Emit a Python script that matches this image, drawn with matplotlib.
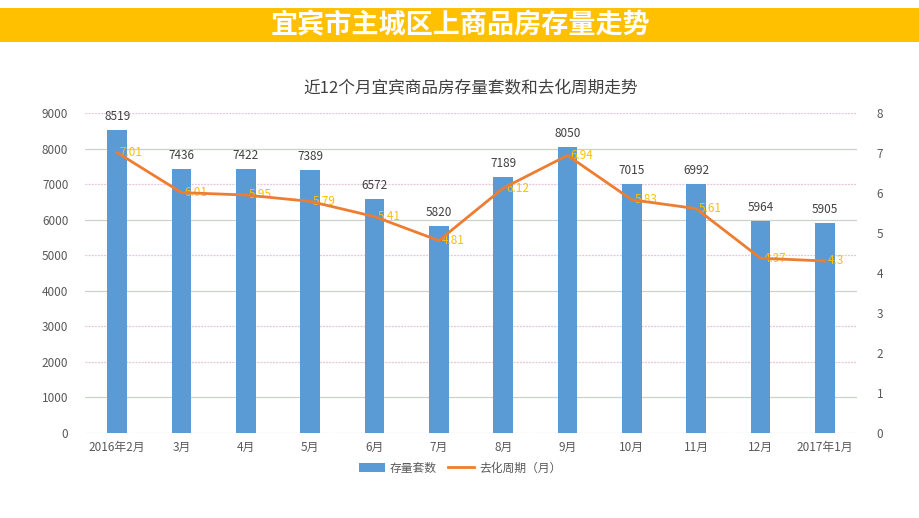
import numpy as np
import matplotlib.pyplot as plt
from matplotlib.patches import Rectangle

plt.rcParams['font.family'] = ['Noto Sans CJK SC', 'DejaVu Sans']

months = ['2016年2月', '3月', '4月', '5月', '6月', '7月', '8月', '9月',
          '10月', '11月', '12月', '2017年1月']
stock = [8519, 7436, 7422, 7389, 6572, 5820, 7189, 8050, 7015, 6992, 5964, 5905]
cycle = [7.01, 6.01, 5.95, 5.79, 5.41, 4.81, 6.12, 6.94, 5.83, 5.61, 4.37, 4.3]

BAR = '#5B9BD5'
LINE = '#ED7D31'
LABEL = '#FFC000'
TXT = '#595959'

fig = plt.figure(figsize=(9.2, 5.18), dpi=100)

# header banner
fig.patches.append(Rectangle((0, 1 - 42 / 518), 1, 34 / 518, transform=fig.transFigure,
                             facecolor='#FFC000', edgecolor='none', zorder=0))
fig.text(0.5, 1 - 25 / 518, '宜宾市主城区上商品房存量走势', color='white', fontsize=19.5,
         fontweight='bold', ha='center', va='center')

ax = fig.add_axes([85 / 920, 1 - 433 / 518, (857 - 85) / 920, 320 / 518])
x = np.arange(len(months))
ax.bar(x, stock, width=0.31, color=BAR, zorder=3, label='存量套数')
for xi, v in zip(x, stock):
    ax.annotate(str(v), (xi, v), xytext=(0, 5), textcoords='offset points',
                ha='center', va='bottom', fontsize=8.5, color='#404040')

ax.set_ylim(0, 9000)
ax.set_xlim(-0.5, len(months) - 0.5)
ax.set_yticks(np.arange(0, 9001, 1000))
ax.set_xticks(x)
ax.set_xticklabels(months)
ax.tick_params(axis='both', length=0, labelsize=8.5, colors=TXT)
ax.tick_params(axis='x', pad=6)
ax.tick_params(axis='y', pad=12)
for s in ax.spines.values():
    s.set_visible(False)

# gridlines: dotted pink or solid grey-green, as in the source
solid = [8000, 6000, 4000, 1000]
for g in range(0, 9001, 1000):
    if g in solid:
        ax.axhline(g, color='#C8D4C8', linestyle='-', linewidth=0.9, zorder=1)
    else:
        ax.axhline(g, color='#E3C4D8', linestyle=(0, (1.5, 1)), linewidth=0.9, zorder=1)

ax2 = ax.twinx()
ax2.plot(x, cycle, color=LINE, linewidth=2, zorder=4, label='去化周期（月）')
for xi, v in zip(x, cycle):
    ax2.annotate(f'{v:g}', (xi, v), xytext=(2, 0), textcoords='offset points',
                 ha='left', va='center', fontsize=8.5, color=LABEL)
ax2.set_ylim(0, 8)
ax2.set_yticks(np.arange(0, 9, 1))
ax2.tick_params(axis='y', length=0, labelsize=8.5, colors=TXT, pad=14)
for s in ax2.spines.values():
    s.set_visible(False)

ax.set_title('近12个月宜宾商品房存量套数和去化周期走势', fontsize=12, color='#404040', pad=14)

h1, l1 = ax.get_legend_handles_labels()
h2, l2 = ax2.get_legend_handles_labels()
fig.legend(h1 + h2, l1 + l2, loc='center', bbox_to_anchor=(0.5, 1 - 468 / 518), ncol=2,
           frameon=False, fontsize=8.5, handlelength=2.2, handleheight=0.7,
           columnspacing=1.0, handletextpad=0.4, labelcolor=TXT)

fig.savefig('out.png', dpi=100)
